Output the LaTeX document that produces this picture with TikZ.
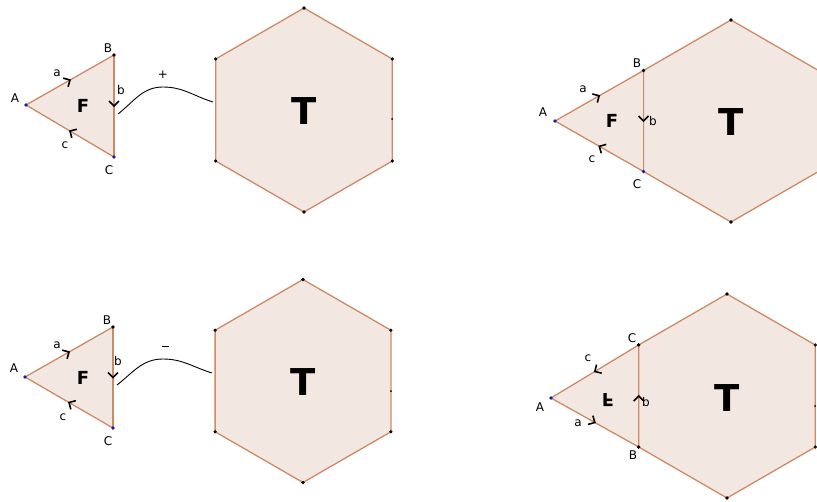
\documentclass[tikz,border=0pt]{standalone}
\usepackage{fontspec}
\setmainfont{DejaVu Sans}
\usepackage{graphicx}
\usetikzlibrary{decorations.markings,calc}
\definecolor{fillc}{HTML}{F3E7E1}
\definecolor{edgec}{HTML}{CC8A66}
\definecolor{ptblue}{HTML}{1A1AB0}
\tikzset{
  polyshape/.style={draw=edgec,line width=1.3pt,line join=round},
  edgeline/.style={draw=edgec,line width=1.3pt},
  chev/.style={postaction={decorate},decoration={markings,
     mark=at position 0.5 with {\draw[black,line width=1.6pt,line join=miter]
        (-5pt,-5pt)--(0pt,0pt)--(-5pt,5pt);}}},
  lbl/.style={font=\fontsize{12}{12}\selectfont,inner sep=0pt},
  big/.style={font=\bfseries\fontsize{37}{37}\selectfont,inner sep=0pt},
  mid/.style={font=\bfseries\fontsize{18}{18}\selectfont,inner sep=0pt},
  link/.style={draw=black,line width=0.9pt},
}
\begin{document}
\begin{tikzpicture}[x=1pt,y=-1pt]
\useasboundingbox (0,0) rectangle (817,501);
\clip (0,0) rectangle (817,501);

% ---------- top-left panel ----------
\foreach \i/\a in {1/-90,2/-30,3/30,4/90,5/150,6/210}
  \coordinate (h1v\i) at ($(304,110)+(\a:102)$);
\fill[fillc] (h1v1)--(h1v2)--(h1v3)--(h1v4)--(h1v5)--(h1v6)--cycle;
\draw[polyshape] (h1v1)--(h1v2)--(h1v3)--(h1v4)--(h1v5)--(h1v6)--cycle;
\foreach \i in {1,2,3,4,5,6} {\fill (h1v\i) circle (1.8pt);}
\fill (392,119) circle (1pt);
\node[big] (T1) at (304,111) {T};

\coordinate (A1) at (26,105);
\coordinate (B1) at (114,55);
\coordinate (C1) at (114,157);
\fill[fillc] (A1)--(B1)--(C1)--cycle;
\draw[edgeline,chev] (A1)--(B1);
\draw[edgeline,chev] (B1)--(C1);
\draw[edgeline,chev] (C1)--(A1);
\fill[ptblue] (A1) circle (1.8pt);
\fill (B1) circle (1.8pt);
\fill[ptblue] (C1) circle (1.8pt);
\node[lbl] (lA1) at (15,98) {A};
\node[lbl] (lB1) at (108,48) {B};
\node[lbl] (lC1) at (109,170) {C};
\node[lbl] (la1) at (57,73) {a};
\node[lbl] (lb1) at (121,90) {b};
\node[lbl] (lc1) at (65,145) {c};
\node[mid] (F1) at (83,106) {F};
\coordinate (s1) at (118,114);
\coordinate (p1) at (163,87);
\coordinate (e1) at (213,102);
\draw[link] (s1) to[out=38,in=180] (p1) to[out=0,in=163] (e1);
\node[lbl] (plus) at (163,75) {+};

% ---------- bottom-left panel ----------
\foreach \i/\a in {1/-90,2/-30,3/30,4/90,5/150,6/210}
  \coordinate (h2v\i) at ($(303,381)+(\a:101.5)$);
\fill[fillc] (h2v1)--(h2v2)--(h2v3)--(h2v4)--(h2v5)--(h2v6)--cycle;
\draw[polyshape] (h2v1)--(h2v2)--(h2v3)--(h2v4)--(h2v5)--(h2v6)--cycle;
\foreach \i in {1,2,3,4,5,6} {\fill (h2v\i) circle (1.8pt);}
\fill (391,391) circle (1pt);
\node[big] (T2) at (303,382) {T};

\coordinate (A2) at (25,377);
\coordinate (B2) at (113,327);
\coordinate (C2) at (113,428);
\fill[fillc] (A2)--(B2)--(C2)--cycle;
\draw[edgeline,chev] (A2)--(B2);
\draw[edgeline,chev] (B2)--(C2);
\draw[edgeline,chev] (C2)--(A2);
\fill[ptblue] (A2) circle (1.8pt);
\fill (B2) circle (1.8pt);
\fill[ptblue] (C2) circle (1.8pt);
\node[lbl] (lA2) at (14,368) {A};
\node[lbl] (lB2) at (107,320) {B};
\node[lbl] (lC2) at (108,441) {C};
\node[lbl] (la2) at (57,345) {a};
\node[lbl] (lb2) at (118,361) {b};
\node[lbl] (lc2) at (63,417) {c};
\node[mid] (F2) at (83,378) {F};
\coordinate (s2) at (117,385);
\coordinate (p2) at (163,359);
\coordinate (e2) at (212,373);
\draw[link] (s2) to[out=38,in=180] (p2) to[out=0,in=163] (e2);
\node[lbl] (minus) at (165,348) {\rule[0.5ex]{7pt}{0.9pt}};

% ---------- top-right panel ----------
\foreach \i/\a in {1/-90,2/-30,3/30,4/90,5/150,6/210}
  \coordinate (h3v\i) at ($(731,121)+(\a:101)$);
\fill[fillc] (h3v1)--(h3v2)--(h3v3)--(h3v4)--(h3v5)--(h3v6)--cycle;
\draw[polyshape] (h3v1)--(h3v2)--(h3v3)--(h3v4)--(h3v5)--(h3v6)--cycle;
\fill (h3v1) circle (1.8pt);
\fill (h3v4) circle (1.8pt);
\node[big] (T3) at (731,122) {T};
\coordinate (A3) at (555,121);
\coordinate (B3) at (h3v6);
\coordinate (C3) at (h3v5);
\fill[fillc] (A3)--(B3)--(C3)--cycle;
\draw[edgeline,chev] (A3)--(B3);
\draw[edgeline,chev] (B3)--(C3);
\draw[edgeline,chev] (C3)--(A3);
\fill[ptblue] (A3) circle (1.8pt);
\fill (B3) circle (1.8pt);
\fill[ptblue] (C3) circle (1.8pt);
\node[lbl] (lA3) at (543,112) {A};
\node[lbl] (lB3) at (637,63) {B};
\node[lbl] (lC3) at (637,184) {C};
\node[lbl] (la3) at (583,89) {a};
\node[lbl] (lb3) at (653,121) {b};
\node[lbl] (lc3) at (592,159) {c};
\node[mid] (F3) at (612,121) {F};

% ---------- bottom-right panel ----------
\foreach \i/\a in {1/-90,2/-30,3/30,4/90,5/150,6/210}
  \coordinate (h4v\i) at ($(727,396)+(\a:102)$);
\fill[fillc] (h4v1)--(h4v2)--(h4v3)--(h4v4)--(h4v5)--(h4v6)--cycle;
\draw[polyshape] (h4v1)--(h4v2)--(h4v3)--(h4v4)--(h4v5)--(h4v6)--cycle;
\foreach \i in {1,2,3,4,5,6} {\fill (h4v\i) circle (1.8pt);}
\fill (815,406) circle (1pt);
\node[big] (T4) at (727,398) {T};
\coordinate (A4) at (551,398);
\coordinate (C4) at (h4v6);
\coordinate (B4) at (h4v5);
\fill[fillc] (A4)--(B4)--(C4)--cycle;
\draw[edgeline,chev] (A4)--(B4);
\draw[edgeline,chev] (B4)--(C4);
\draw[edgeline,chev] (C4)--(A4);
\fill[ptblue] (A4) circle (1.8pt);
\fill (B4) circle (1.8pt);
\fill (C4) circle (1.8pt);
\node[lbl] (lA4) at (540,407) {A};
\node[lbl] (lB4) at (633,455) {B};
\node[lbl] (lC4) at (632,338) {C};
\node[lbl] (la4) at (578,423) {a};
\node[lbl] (lb4) at (646,402) {b};
\node[lbl] (lc4) at (588,358) {c};
\node[mid] (F4) at (608,400) {\scalebox{1}[-1]{F}};
\end{tikzpicture}
\end{document}
